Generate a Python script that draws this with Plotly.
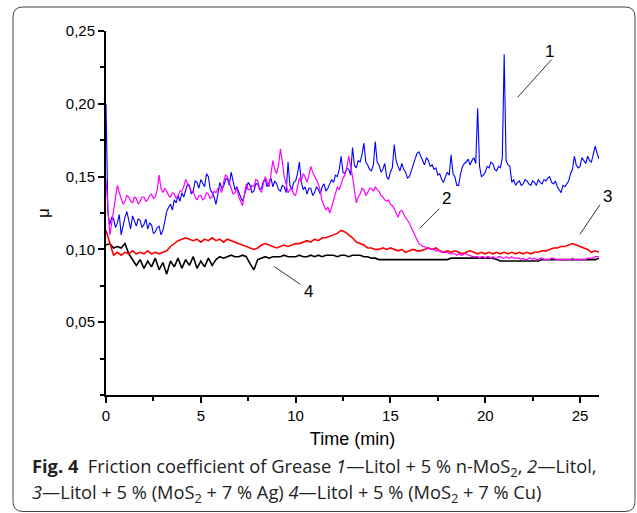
import plotly.graph_objects as go

# time grids (min): 0.1-min sampling for the noisy curves 1 and 2, 0.2-min for 3 and 4
time_fine = [round(i * 0.1, 1) for i in range(261)]
time_coarse = [round(i * 0.2, 1) for i in range(131)]

mu_1 = [  # Litol + 5 % n-MoS2 (blue), 0.1-min steps
    0.200, 0.125, 0.117, 0.122, 0.121, 0.115, 0.118, 0.124, 0.110, 0.117,
    0.122, 0.126, 0.119, 0.114, 0.123, 0.119, 0.116, 0.121, 0.120, 0.115,
    0.117, 0.121, 0.114, 0.118, 0.117, 0.111, 0.112, 0.115, 0.116, 0.110,
    0.113, 0.119, 0.126, 0.129, 0.131, 0.127, 0.134, 0.132, 0.137, 0.133,
    0.139, 0.136, 0.141, 0.145, 0.144, 0.138, 0.140, 0.147, 0.146, 0.142,
    0.148, 0.145, 0.143, 0.152, 0.150, 0.141, 0.139, 0.136, 0.131, 0.138,
    0.146, 0.142, 0.143, 0.148, 0.149, 0.144, 0.153, 0.147, 0.141, 0.143,
    0.139, 0.136, 0.133, 0.138, 0.141, 0.146, 0.144, 0.139, 0.140, 0.145,
    0.145, 0.141, 0.142, 0.147, 0.148, 0.143, 0.146, 0.149, 0.143, 0.147,
    0.145, 0.141, 0.140, 0.144, 0.143, 0.139, 0.160, 0.144, 0.141, 0.146,
    0.147, 0.152, 0.160, 0.146, 0.141, 0.143, 0.138, 0.142, 0.142, 0.137,
    0.139, 0.143, 0.141, 0.138, 0.143, 0.145, 0.140, 0.142, 0.145, 0.148,
    0.146, 0.151, 0.150, 0.155, 0.164, 0.153, 0.152, 0.156, 0.155, 0.151,
    0.170, 0.158, 0.156, 0.161, 0.160, 0.165, 0.173, 0.160, 0.158, 0.155,
    0.154, 0.158, 0.174, 0.160, 0.158, 0.153, 0.155, 0.159, 0.150, 0.148,
    0.153, 0.156, 0.172, 0.161, 0.157, 0.154, 0.159, 0.155, 0.153, 0.149,
    0.150, 0.155, 0.158, 0.162, 0.166, 0.167, 0.164, 0.160, 0.158, 0.163,
    0.161, 0.157, 0.158, 0.155, 0.156, 0.151, 0.152, 0.148, 0.146, 0.150,
    0.153, 0.151, 0.165, 0.152, 0.150, 0.144, 0.144, 0.152, 0.157, 0.159,
    0.160, 0.162, 0.158, 0.161, 0.163, 0.159, 0.197, 0.157, 0.150, 0.151,
    0.153, 0.157, 0.156, 0.160, 0.159, 0.155, 0.154, 0.157, 0.156, 0.163,
    0.234, 0.161, 0.158, 0.157, 0.146, 0.148, 0.144, 0.146, 0.147, 0.144,
    0.145, 0.148, 0.147, 0.145, 0.144, 0.147, 0.146, 0.144, 0.148, 0.146,
    0.145, 0.148, 0.147, 0.149, 0.150, 0.146, 0.145, 0.147, 0.143, 0.141,
    0.139, 0.144, 0.143, 0.145, 0.147, 0.152, 0.155, 0.164, 0.158, 0.156,
    0.157, 0.163, 0.161, 0.159, 0.164, 0.161, 0.160, 0.165, 0.171, 0.166,
    0.162,
]

mu_2 = [  # Litol (magenta), 0.1-min steps
    0.148, 0.125, 0.110, 0.118, 0.126, 0.135, 0.144, 0.139, 0.134, 0.131,
    0.133, 0.137, 0.136, 0.133, 0.132, 0.136, 0.135, 0.131, 0.133, 0.136,
    0.136, 0.133, 0.134, 0.137, 0.138, 0.135, 0.136, 0.141, 0.151, 0.142,
    0.139, 0.142, 0.140, 0.137, 0.136, 0.139, 0.138, 0.135, 0.137, 0.140,
    0.140, 0.143, 0.148, 0.145, 0.143, 0.140, 0.140, 0.136, 0.134, 0.137,
    0.137, 0.134, 0.135, 0.139, 0.138, 0.135, 0.136, 0.140, 0.139, 0.142,
    0.142, 0.139, 0.146, 0.151, 0.150, 0.145, 0.142, 0.138, 0.139, 0.142,
    0.136, 0.133, 0.130, 0.138, 0.145, 0.141, 0.141, 0.144, 0.143, 0.148,
    0.147, 0.142, 0.139, 0.145, 0.150, 0.146, 0.143, 0.152, 0.161, 0.155,
    0.152, 0.158, 0.169, 0.160, 0.150, 0.145, 0.139, 0.141, 0.142, 0.138,
    0.137, 0.143, 0.149, 0.147, 0.152, 0.150, 0.146, 0.151, 0.157, 0.153,
    0.150, 0.147, 0.145, 0.140, 0.133, 0.130, 0.127, 0.129, 0.125, 0.129,
    0.134, 0.139, 0.143, 0.141, 0.146, 0.149, 0.151, 0.156, 0.164, 0.158,
    0.150, 0.141, 0.132, 0.136, 0.138, 0.142, 0.141, 0.137, 0.139, 0.142,
    0.142, 0.140, 0.143, 0.141, 0.140, 0.137, 0.136, 0.134, 0.133, 0.134,
    0.131, 0.130, 0.128, 0.125, 0.122, 0.126, 0.127, 0.124, 0.122, 0.120,
    0.118, 0.115, 0.112, 0.109, 0.106, 0.104, 0.103, 0.102, 0.102, 0.101,
    0.101, 0.100, 0.100, 0.100, 0.099, 0.099, 0.099, 0.098, 0.098, 0.098,
    0.098, 0.097, 0.097, 0.097, 0.097, 0.096, 0.097, 0.096, 0.096, 0.097,
    0.097, 0.096, 0.096, 0.095, 0.095, 0.095, 0.095, 0.094, 0.095, 0.095,
    0.094, 0.095, 0.095, 0.094, 0.095, 0.094, 0.094, 0.095, 0.095, 0.094,
    0.094, 0.095, 0.094, 0.094, 0.095, 0.094, 0.094, 0.094, 0.094, 0.093,
    0.094, 0.093, 0.093, 0.094, 0.094, 0.093, 0.094, 0.093, 0.093, 0.094,
    0.094, 0.093, 0.093, 0.093, 0.093, 0.094, 0.094, 0.093, 0.093, 0.093,
    0.093, 0.093, 0.093, 0.093, 0.093, 0.093, 0.094, 0.093, 0.093, 0.093,
    0.093, 0.093, 0.093, 0.093, 0.094, 0.094, 0.094, 0.094, 0.095, 0.095,
    0.095,
]

mu_3 = [  # Litol + 5 % (MoS2 + 7 % Ag) (red), 0.2-min steps
    0.113, 0.104, 0.096, 0.098, 0.096, 0.098, 0.097, 0.099, 0.097, 0.098,
    0.097, 0.099, 0.097, 0.098, 0.097, 0.098, 0.099, 0.102, 0.104, 0.106,
    0.107, 0.108, 0.107, 0.106, 0.107, 0.105, 0.107, 0.106, 0.108, 0.106,
    0.107, 0.105, 0.107, 0.106, 0.105, 0.104, 0.103, 0.102, 0.101, 0.100,
    0.101, 0.103, 0.104, 0.103, 0.102, 0.101, 0.102, 0.103, 0.102, 0.103,
    0.104, 0.104, 0.105, 0.106, 0.105, 0.107, 0.106, 0.108, 0.108, 0.109,
    0.110, 0.111, 0.113, 0.112, 0.110, 0.108, 0.105, 0.104, 0.103, 0.101,
    0.101, 0.100, 0.100, 0.101, 0.100, 0.101, 0.100, 0.099, 0.100, 0.098,
    0.099, 0.100, 0.099, 0.099, 0.100, 0.101, 0.100, 0.101, 0.099, 0.098,
    0.099, 0.098, 0.099, 0.098, 0.097, 0.098, 0.099, 0.098, 0.097, 0.098,
    0.097, 0.098, 0.097, 0.098, 0.097, 0.098, 0.097, 0.098, 0.097, 0.098,
    0.097, 0.098, 0.097, 0.098, 0.098, 0.099, 0.099, 0.100, 0.101, 0.101,
    0.102, 0.102, 0.103, 0.104, 0.103, 0.102, 0.101, 0.100, 0.098, 0.099,
    0.098,
]

mu_4 = [  # Litol + 5 % (MoS2 + 7 % Cu) (black), 0.2-min steps
    0.103, 0.104, 0.101, 0.102, 0.101, 0.104, 0.097, 0.093, 0.089, 0.093,
    0.087, 0.092, 0.088, 0.094, 0.086, 0.091, 0.083, 0.092, 0.088, 0.094,
    0.087, 0.093, 0.089, 0.095, 0.087, 0.092, 0.088, 0.094, 0.089, 0.093,
    0.095, 0.094, 0.095, 0.096, 0.095, 0.095, 0.096, 0.095, 0.090, 0.086,
    0.093, 0.094, 0.095, 0.094, 0.095, 0.095, 0.095, 0.096, 0.095, 0.095,
    0.095, 0.096, 0.095, 0.095, 0.096, 0.095, 0.096, 0.095, 0.096, 0.096,
    0.096, 0.095, 0.096, 0.096, 0.095, 0.096, 0.096, 0.096, 0.095, 0.095,
    0.094, 0.094, 0.093, 0.093, 0.093, 0.093, 0.093, 0.093, 0.093, 0.093,
    0.093, 0.093, 0.093, 0.093, 0.093, 0.093, 0.093, 0.093, 0.093, 0.093,
    0.093, 0.094, 0.094, 0.094, 0.094, 0.094, 0.094, 0.094, 0.094, 0.094,
    0.094, 0.094, 0.094, 0.093, 0.092, 0.092, 0.092, 0.092, 0.092, 0.092,
    0.092, 0.092, 0.092, 0.092, 0.092, 0.093, 0.093, 0.093, 0.093, 0.093,
    0.093, 0.093, 0.093, 0.093, 0.093, 0.093, 0.093, 0.093, 0.093, 0.093,
    0.094,
]

x_ticks = [0, 5, 10, 15, 20, 25]
y_ticks = [0.05, 0.10, 0.15, 0.20, 0.25]

# curve labels: (label, label_t, label_mu, label_xshift_px, leader_t, leader_mu, ax, ay)
curve_labels = [
    ("1", 23.4, 0.2356, 0, 21.72, 0.2046, 35, -39),
    ("2", 17.98, 0.135, 0, 16.55, 0.1145, 21, -21),
    ("3", 26.0, 0.1365, 8, 24.99, 0.1103, 21, -31),
    ("4", 10.70, 0.0711, 0, 8.86, 0.0883, 28, 19),
]

caption_1 = ("<b>Fig. 4</b>\u00a0\u00a0Friction coefficient of Grease <i>1</i>—Litol + 5 % "
             "n-MoS<sub>2</sub>, <i>2</i>—Litol,")
caption_2 = ("<i>3</i>—Litol + 5 % (MoS<sub>2</sub> + 7 % Ag) "
             "<i>4</i>—Litol + 5 % (MoS<sub>2</sub> + 7 % Cu)")

W, H = 637, 513
ML, MR, MT, MB = 106, 38, 31, 118
PW, PH = W - ML - MR, H - MT - MB


def px(x):
    return (x - ML) / PW


def py(y):
    return (H - MB - y) / PH


fig = go.Figure()
for xs, ys, col, lw in [(time_coarse, mu_4, "#000000", 1.6),
                        (time_coarse, mu_3, "#ff0000", 1.6),
                        (time_fine, mu_1, "#0000ff", 1.1),
                        (time_fine, mu_2, "#ff00ff", 1.2)]:
    fig.add_trace(go.Scatter(x=xs, y=ys, mode="lines",
                             line=dict(color=col, width=lw), showlegend=False,
                             hoverinfo="skip"))

for lab, lt, lm, xs, ht, hm, ax, ay in curve_labels:
    fig.add_annotation(x=ht, y=hm, xref="x", yref="y", text="", showarrow=True,
                       arrowhead=0, arrowwidth=1, arrowcolor="#333333",
                       ax=ax, ay=ay, standoff=0, startstandoff=0)
    fig.add_annotation(x=lt, y=lm, xref="x", yref="y", text=lab, showarrow=False,
                       xshift=xs,
                       font=dict(family="Liberation Sans, Arial", size=17, color="#000"))

cap_font = dict(family="Open Sans", size=18.3, color="#222")
fig.add_annotation(x=px(30), y=py(467), xref="paper", yref="paper", text=caption_1,
                   showarrow=False, xanchor="left", yanchor="middle", align="left",
                   font=cap_font)
fig.add_annotation(x=px(30), y=py(492.5), xref="paper", yref="paper", text=caption_2,
                   showarrow=False, xanchor="left", yanchor="middle", align="left",
                   font=cap_font)

# rounded frame
x0, x1, t0, b0 = px(13), px(635), py(7), py(511.5)
rx, ry = 10 / PW, 10 / PH
path = (f"M {x0+rx},{t0} L {x1-rx},{t0} Q {x1},{t0} {x1},{t0-ry} "
        f"L {x1},{b0+ry} Q {x1},{b0} {x1-rx},{b0} L {x0+rx},{b0} "
        f"Q {x0},{b0} {x0},{b0+ry} L {x0},{t0-ry} Q {x0},{t0} {x0+rx},{t0} Z")
fig.add_shape(type="path", path=path, xref="paper", yref="paper",
              line=dict(color="#444444", width=1))

axis_font = dict(family="Liberation Sans, Arial", size=15, color="#000")
fig.update_xaxes(range=[0, 26], tickvals=x_ticks, ticks="outside", ticklen=6,
                 tickwidth=1.5, tickcolor="#000", showline=True, linecolor="#000",
                 linewidth=2, showgrid=False, zeroline=False, tickfont=axis_font,
                 minor=dict(dtick=2.5, tick0=0, ticks="outside", ticklen=4,
                            tickwidth=1.5, tickcolor="#000"),
                 title=dict(text="Time (min)", font=dict(family="Liberation Sans, Arial",
                                                         size=18, color="#000"), standoff=9))
fig.update_yaxes(range=[0, 0.25], tickvals=y_ticks, tickformat=".2f", ticks="outside",
                 ticklen=6, tickwidth=1.5, tickcolor="#000", showline=True,
                 linecolor="#000", linewidth=2, showgrid=False, zeroline=False,
                 tickfont=axis_font,
                 minor=dict(dtick=0.025, tick0=0, ticks="outside", ticklen=4,
                            tickwidth=1.5, tickcolor="#000"),
                 title=dict(text="μ", font=dict(family="Liberation Sans, Arial",
                                                size=17, color="#000"), standoff=12))

fig.update_layout(width=W, height=H, margin=dict(l=ML, r=MR, t=MT, b=MB),
                  plot_bgcolor="white", paper_bgcolor="white", separators=",.",
                  showlegend=False)

fig.write_html("out.html", config={"displayModeBar": False},
               post_script="document.body.style.margin='0';document.body.style.padding='0';")
